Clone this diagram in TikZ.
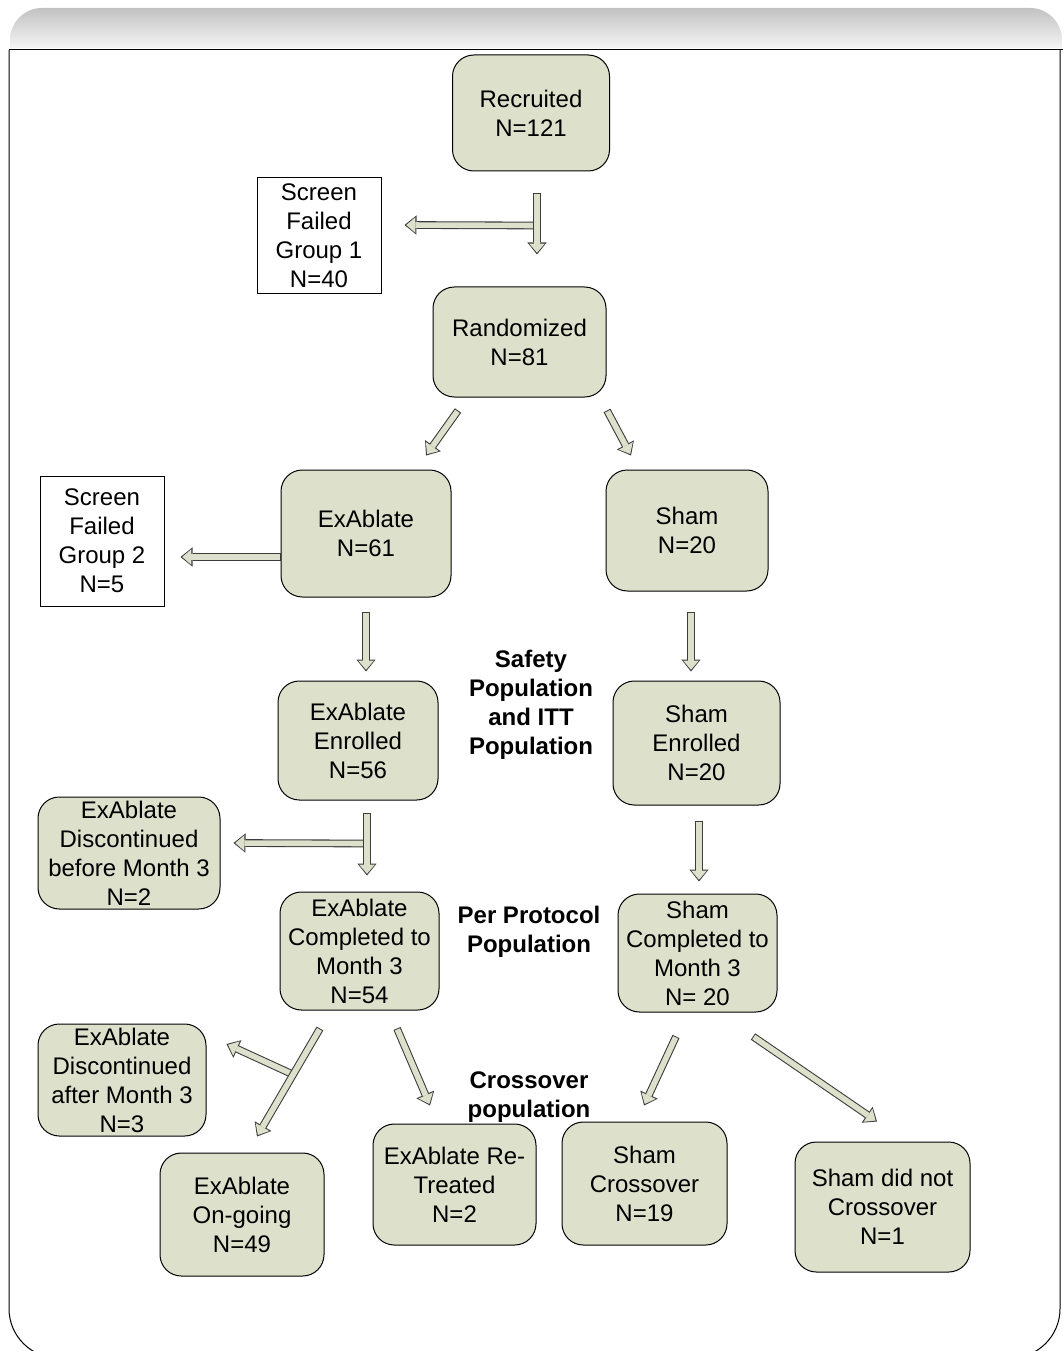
\documentclass[tikz,border=0pt]{standalone}
\usepackage{fontspec}
\setmainfont{Liberation Sans}
\usetikzlibrary{arrows.meta,calc}
\definecolor{boxfill}{RGB}{221,225,204}
\definecolor{arrowline}{RGB}{60,60,60}
\tikzset{
  box/.style={draw=black, line width=0.75pt, fill=boxfill, rounded corners=16pt, align=center, inner sep=0pt, font=\fontsize{18}{21.75}\selectfont},
  sfbox/.style={draw=black, line width=0.75pt, fill=white, align=center, inner sep=0pt, font=\fontsize{18}{21.75}\selectfont},
  poplabel/.style={align=center, inner sep=0pt, font=\fontsize{18}{21.75}\selectfont\bfseries},
  blockarrow/.style={draw=arrowline, line width=5.8pt, -{Triangle[length=9pt,width=14.5pt,line width=0pt]},
    postaction={draw=boxfill, line width=4.2pt, shorten <=0.75pt, shorten >=1.3pt, -{Triangle[length=6.9pt,width=11.8pt,line width=0pt]}}}
}
\begin{document}
\begin{tikzpicture}[x=0.75pt,y=-0.75pt]
  \useasboundingbox (0,0) rectangle (1063,1351);
%%
  % Frame
  \shade[top color=black!24, bottom color=black!4, rounded corners=24pt] (10,48) -- (10,8) -- (1062,8) -- (1062,48);
  \draw[line width=0.75pt, rounded corners=37pt] (9,50) -- (9,1358) -- (1060,1358) -- (1060,50);
  \draw[line width=0.75pt] (9,50) -- (1063,50);
%%
  % Node: Recruited
  \node[box, minimum width=117.75pt, minimum height=87pt] (rec) at (531,113) {Recruited\\N=121};
  % Node: Screen Failed Group 1
  \node[sfbox, minimum width=93pt, minimum height=87pt] (sf1) at (319,236) {Screen\\Failed\\Group 1\\N=40};
  % Node: Randomized
  \node[box, minimum width=129.75pt, minimum height=82.5pt] (rand) at (519.5,342) {Randomized\\N=81};
  % Node: ExAblate
  \node[box, minimum width=127.5pt, minimum height=95.25pt] (exab) at (366,533.5) {ExAblate\\N=61};
  % Node: Sham
  \node[box, minimum width=121.5pt, minimum height=90.75pt] (sham) at (687,530.5) {Sham\\N=20};
  % Node: Screen Failed Group 2
  \node[sfbox, minimum width=93pt, minimum height=97.5pt] (sf2) at (102,541) {Screen\\Failed\\Group 2\\N=5};
  % Node: ExAblate Enrolled
  \node[box, minimum width=120pt, minimum height=89.25pt] (exen) at (358,740.5) {ExAblate\\Enrolled\\N=56};
  % Node: Sham Enrolled
  \node[box, minimum width=125.25pt, minimum height=93pt] (shen) at (696.5,743) {Sham\\Enrolled\\N=20};
  % Node: ExAblate Discontinued before Month 3
  \node[box, minimum width=136.5pt, minimum height=84pt] (exdb) at (129,853) {ExAblate\\Discontinued\\before Month 3\\N=2};
  % Node: ExAblate Completed
  \node[box, minimum width=119.25pt, minimum height=88.5pt] (excomp) at (359.5,951) {ExAblate\\Completed to\\Month 3\\N=54};
  % Node: Sham Completed
  \node[box, minimum width=119.25pt, minimum height=88.5pt] (shcomp) at (697.5,953) {Sham\\Completed to\\Month 3\\N= 20};
  % Node: ExAblate Discontinued after Month 3
  \node[box, minimum width=126pt, minimum height=84pt] (exda) at (122,1080) {ExAblate\\Discontinued\\after Month 3\\N=3};
  % Node: ExAblate On-going
  \node[box, minimum width=123pt, minimum height=92.25pt] (exon) at (242,1214.5) {ExAblate\\On-going\\N=49};
  % Node: ExAblate Re-Treated
  \node[box, minimum width=122.25pt, minimum height=90.75pt] (exre) at (454.5,1184.5) {ExAblate Re-\\Treated\\N=2};
  % Node: Sham Crossover
  \node[box, minimum width=123.75pt, minimum height=92.25pt] (shcross) at (644.5,1183.5) {Sham\\Crossover\\N=19};
  % Node: Sham did not Crossover
  \node[box, minimum width=131.25pt, minimum height=97.5pt] (shnot) at (882.5,1207) {Sham did not\\Crossover\\N=1};
%%
  % Population labels
  \node[poplabel] (safety) at (531,705) {Safety\\Population\\and ITT\\Population};
  \node[poplabel] (perprot) at (529,932) {Per Protocol\\Population};
  \node[poplabel] (crossover) at (529,1097) {Crossover\\population};
%%
  % Edge: Recruited -> Screen Failed Group 1
  \coordinate (j1) at ($(rec.south)+(6,54)$);
  \draw[blockarrow] (j1) -- ($(sf1.east)+(23,-11)$);
  % Edge: Recruited -> Randomized
  \draw[blockarrow] ($(rec.south)+(6,22)$) -- ($(rand.north)+(17.5,-32)$);
  % Edge: Randomized -> ExAblate
  \draw[blockarrow] ($(rand.south)+(-61.5,13)$) -- ($(exab.north)+(60,-14)$);
  % Edge: Randomized -> Sham
  \draw[blockarrow] ($(rand.south)+(87.5,13)$) -- ($(sham.north)+(-56,-14)$);
  % Edge: ExAblate -> Screen Failed Group 2
  \draw[blockarrow] ($(exab.west)+(0,23.5)$) -- ($(sf2.east)+(16,16)$);
  % Edge: ExAblate -> ExAblate Enrolled
  \draw[blockarrow] ($(exab.south)+(0,14)$) -- ($(exen.north)+(8,-9)$);
  % Edge: Sham -> Sham Enrolled
  \draw[blockarrow] ($(sham.south)+(4,20)$) -- ($(shen.north)+(-5.5,-9)$);
  % Edge: ExAblate Enrolled -> ExAblate Discontinued before Month 3
  \coordinate (j2) at ($(exen.south)+(9,43)$);
  \draw[blockarrow] (j2) -- ($(exdb.east)+(13,-10)$);
  % Edge: ExAblate Enrolled -> ExAblate Completed
  \draw[blockarrow] ($(exen.south)+(9,12)$) -- ($(excomp.north)+(7.5,-16)$);
  % Edge: Sham Enrolled -> Sham Completed
  \draw[blockarrow] ($(shen.south)+(2.5,15)$) -- ($(shcomp.north)+(1.5,-12)$);
  % Edge: ExAblate Completed -> ExAblate Discontinued after Month 3
  \coordinate (j3) at ($(excomp.south)+(-66.5,64)$);
  \draw[blockarrow] (j3) -- ($(exda.east)+(20,-36)$);
  % Edge: ExAblate Completed -> ExAblate On-going
  \draw[blockarrow] ($(excomp.south)+(-39.5,18)$) -- ($(exon.north)+(15,-16)$);
  % Edge: ExAblate Completed -> ExAblate Re-Treated
  \draw[blockarrow] ($(excomp.south)+(37.5,18)$) -- ($(exre.north)+(-24.5,-18)$);
  % Edge: Sham Completed -> Sham Crossover
  \draw[blockarrow] ($(shcomp.south)+(-21.5,24)$) -- ($(shcross.north)+(-0.5,-16)$);
  % Edge: Sham Completed -> Sham did not Crossover
  \draw[blockarrow] ($(shcomp.south)+(55.5,24)$) -- ($(shnot.north)+(-5.5,-20)$);
%
\end{tikzpicture}
\end{document}
